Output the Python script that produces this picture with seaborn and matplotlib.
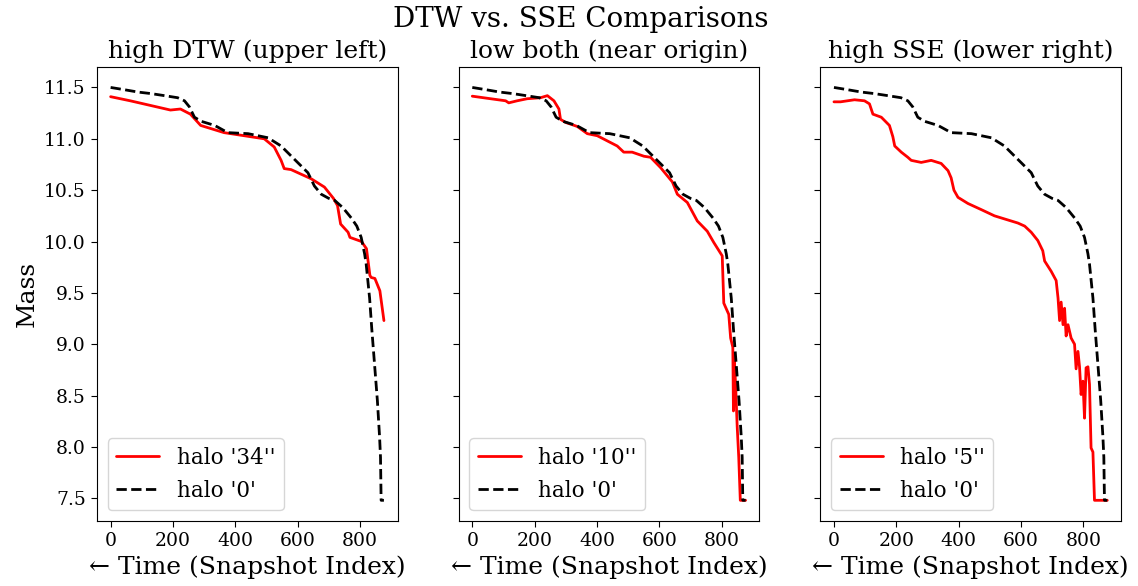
import numpy as np
import pandas as pd
import matplotlib
matplotlib.use("Agg")
import matplotlib.pyplot as plt
import seaborn as sns

# ---- data ----
ref_idx = [0, 40, 88, 130, 173, 215, 237, 253, 269, 291, 334, 376, 441, 505, 547,
           590, 633, 654, 676, 700, 719, 745, 772, 790, 804, 815, 820, 831, 838,
           847, 856, 863, 866, 868, 877]
ref_mass = [11.50, 11.48, 11.455, 11.44, 11.42, 11.40, 11.37, 11.31, 11.21, 11.17,
            11.13, 11.06, 11.05, 11.01, 10.93, 10.80, 10.67, 10.54, 10.46, 10.42,
            10.40, 10.33, 10.23, 10.15, 10.04, 9.88, 9.78, 9.45, 9.15, 8.80, 8.45,
            8.10, 7.90, 7.48, 7.48]

h34_idx = [0, 63, 149, 192, 224, 256, 289, 364, 450, 493, 525, 547, 557, 579, 644,
           686, 715, 728, 738, 762, 768, 805, 821, 832, 836, 848, 864, 877]
h34_mass = [11.41, 11.37, 11.31, 11.28, 11.29, 11.24, 11.13, 11.06, 11.02, 11.00,
            10.92, 10.79, 10.71, 10.70, 10.61, 10.53, 10.42, 10.35, 10.17, 10.09,
            10.04, 10.00, 9.93, 9.67, 9.65, 9.64, 9.52, 9.23]

h10_idx = [0, 59, 107, 117, 144, 176, 219, 241, 262, 278, 283, 299, 337, 369, 401,
           433, 465, 486, 513, 551, 572, 604, 642, 658, 690, 722, 754, 775, 802,
           807, 823, 829, 836, 838, 840, 845, 850, 855, 860, 877]
h10_mass = [11.415, 11.39, 11.37, 11.35, 11.37, 11.39, 11.40, 11.42, 11.37, 11.29,
            11.19, 11.16, 11.12, 11.05, 11.03, 10.98, 10.93, 10.87, 10.87, 10.83,
            10.82, 10.72, 10.58, 10.46, 10.38, 10.20, 10.10, 9.99, 9.86, 9.40,
            9.29, 9.06, 8.97, 8.35, 8.90, 8.60, 8.20, 7.90, 7.48, 7.48]

h5_idx = [0, 21, 66, 98, 114, 125, 152, 178, 189, 195, 216, 237, 248, 280, 312,
          344, 366, 376, 385, 398, 430, 473, 515, 547, 590, 612, 633, 654, 670,
          676, 697, 713, 719, 724, 729, 735, 740, 745, 751, 761, 772, 777, 783,
          788, 793, 799, 804, 809, 815, 820, 825, 831, 836, 877]
h5_mass = [11.36, 11.36, 11.38, 11.37, 11.34, 11.24, 11.21, 11.13, 11.02, 10.93,
           10.87, 10.82, 10.79, 10.77, 10.79, 10.76, 10.69, 10.62, 10.50, 10.43,
           10.37, 10.31, 10.25, 10.22, 10.18, 10.15, 10.09, 10.01, 9.91, 9.81,
           9.71, 9.62, 9.45, 9.23, 9.41, 9.19, 9.35, 9.08, 9.19, 9.06, 9.00,
           8.76, 8.93, 8.78, 8.51, 8.64, 8.28, 8.77, 8.78, 8.61, 7.99, 7.95,
           7.48, 7.48]

panel_titles = ["high DTW (upper left)", "low both (near origin)", "high SSE (lower right)"]
halo_labels = ["halo '34''", "halo '10''", "halo '5''"]
ref_label = "halo '0'"
suptitle = "DTW vs. SSE Comparisons"
xlabel = "\u2190 Time (Snapshot Index)"
ylabel = "Mass"
xticks = [0, 200, 400, 600, 800]
yticks = [7.5, 8.0, 8.5, 9.0, 9.5, 10.0, 10.5, 11.0, 11.5]

series = [(h34_idx, h34_mass), (h10_idx, h10_mass), (h5_idx, h5_mass)]

# ---- style ----
sns.set_style("ticks")
plt.rcParams["font.family"] = ["DejaVu Serif", "DejaVu Sans"]
for k in ["axes.edgecolor", "text.color", "axes.labelcolor", "xtick.color", "ytick.color"]:
    plt.rcParams[k] = "black"

fig, axes = plt.subplots(1, 3, figsize=(11.38, 5.86), dpi=100, sharey=True)
fig.subplots_adjust(left=0.0852, right=0.985, top=0.886, bottom=0.111, wspace=0.203)

ref_df = pd.DataFrame({"idx": ref_idx, "mass": ref_mass})
for ax, (hx, hy), title, lab in zip(axes, series, panel_titles, halo_labels):
    df = pd.DataFrame({"idx": hx, "mass": hy})
    sns.lineplot(data=df, x="idx", y="mass", ax=ax, color="red", linewidth=2,
                 label=lab, sort=False, estimator=None)
    sns.lineplot(data=ref_df, x="idx", y="mass", ax=ax, color="black", linewidth=2,
                 linestyle="--", label=ref_label, sort=False, estimator=None)
    ax.set_title(title, fontsize=18)
    ax.set_xlabel(xlabel, fontsize=18)
    ax.set_ylabel("")
    ax.tick_params(labelsize=13.5, length=4.5)
    ax.legend(loc="lower left", fontsize=15.5, frameon=True)
    ax.set_xticks(xticks)

axes[0].set_ylabel(ylabel, fontsize=18)
axes[0].set_yticks(yticks)
fig.suptitle(suptitle, fontsize=20, x=0.51, y=0.99)

fig.savefig("out.png", dpi=100)
